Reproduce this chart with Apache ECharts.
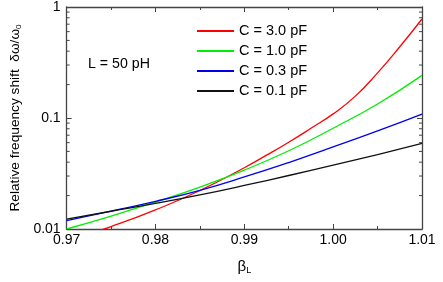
<!DOCTYPE html>
<html><head><meta charset="utf-8">
<script src="https://cdn.jsdelivr.net/npm/echarts@6/dist/echarts.min.js"></script>
<style>html,body{margin:0;padding:0;background:#fff}#c{width:443px;height:282px}</style>
</head><body><div id="c"></div>
<script>
const xTickLabels = ['0.97','0.98','0.99','1.00','1.01'];
const yTickLabels = ['0.01','0.1','1'];
const seriesNames = ['C = 3.0 pF','C = 1.0 pF','C = 0.3 pF','C = 0.1 pF'];
const seriesColors = ['#ff0000','#00ee00','#0000ee','#111111'];
const betaRed = [0.97,0.975,0.98,0.985,0.99,0.9925,0.995,0.9975,1.00,1.0025,1.005,1.0075,1.01];
const valRed  = [0.00778,0.01052,0.01486,0.02223,0.03565,0.04624,0.06053,0.08072,0.1089,0.1574,0.2553,0.4385,0.7798];
const beta = [0.97,0.975,0.98,0.985,0.99,0.995,1.00,1.005,1.01];
const valGreen = [0.0100,0.01309,0.01750,0.02388,0.03388,0.05070,0.08091,0.1337,0.2421];
const valBlue  = [0.0119,0.01449,0.01774,0.02234,0.02944,0.03972,0.05483,0.07656,0.1086];
const valBlack = [0.0123,0.01445,0.01698,0.02028,0.02466,0.03034,0.03758,0.04688,0.05902];
const minorTickValues = [];
[0.01,0.1].forEach(d=>{for(let k=2;k<=9;k++) minorTickValues.push(+(d*k).toPrecision(3));});

const FONT = 'Liberation Sans';
const axisColor = '#444';
function pairs(xs, ys){ return xs.map((x,i)=>[x,ys[i]]); }
const lineData = [pairs(betaRed,valRed), pairs(beta,valGreen), pairs(beta,valBlue), pairs(beta,valBlack)];

const chart = echarts.init(document.getElementById('c'), null, {renderer:'canvas'});
const xBase = {type:'value', min:0.97, max:1.01, interval:0.01,
  axisLine:{show:true, lineStyle:{color:axisColor, width:1.3}},
  axisTick:{show:true, inside:true, length:5, lineStyle:{color:axisColor}},
  minorTick:{show:true, splitNumber:2, length:3, lineStyle:{color:axisColor}},
  splitLine:{show:false}};
const yBase = {type:'log', logBase:10, min:0.01, max:1,
  axisLine:{show:true, lineStyle:{color:axisColor, width:1.3}},
  axisTick:{show:true, inside:true, length:5, lineStyle:{color:axisColor}},
  splitLine:{show:false}};

const option = {
  animation:false,
  backgroundColor:'#fff',
  grid:{left:61, right:21, top:5, bottom:53, containLabel:false},
  xAxis:[
    Object.assign({}, xBase, {position:'bottom',
      axisLabel:{show:true, margin:4, color:'#000', fontFamily:FONT, fontSize:14,
        formatter:(v)=>{const i=Math.round((v-0.97)/0.01); return xTickLabels[i]||'';}},
      name:'{b|β}{s|L}', nameLocation:'middle', nameGap:29,
      nameTextStyle:{rich:{b:{fontSize:15, fontFamily:FONT, color:'#000'}, s:{fontSize:9, fontFamily:FONT, color:'#000', padding:[8,0,0,0]}}}
    }),
    Object.assign({}, xBase, {position:'top', axisLabel:{show:false}})
  ],
  yAxis:[
    Object.assign({}, yBase, {position:'left',
      axisLabel:{show:true, margin:6, color:'#000', fontFamily:FONT, fontSize:14,
        formatter:(v)=>{const i=Math.round(Math.log10(v)+2); return yTickLabels[i]||'';}},
      name:'{m|Relative frequency shift  δω/ω}{s|0}', nameLocation:'middle', nameGap:37,
      nameTextStyle:{rich:{m:{fontSize:13.7, fontFamily:FONT, color:'#000'}, s:{fontSize:8, fontFamily:FONT, color:'#000', padding:[7,0,0,0]}}}
    }),
    Object.assign({}, yBase, {position:'right', axisLabel:{show:false}})
  ],
  legend:{
    show:true, orient:'vertical', left:197, top:23.5, padding:0,
    itemWidth:37, itemHeight:2, itemGap:5, icon:'rect',
    textStyle:{fontFamily:FONT, fontSize:14.5, color:'#000', lineHeight:14, padding:[0,0,0,0]},
    data:seriesNames
  },
  graphic:[{type:'text', left:88, top:57.5, style:{text:'L = 50 pH', font:'14.2px "Liberation Sans"', fill:'#000'}}],
  series: seriesNames.map((n,i)=>({
    name:n, type:'line', data:lineData[i], smooth:0.5, symbol:'none', clip:true,
    xAxisIndex:0, yAxisIndex:0,
    lineStyle:{color:seriesColors[i], width:1.3}, itemStyle:{color:seriesColors[i]}, z:3
  })).concat([{
    type:'custom', xAxisIndex:0, yAxisIndex:0, silent:true, clip:false, z:4,
    data:minorTickValues.map(v=>[v]),
    renderItem:(params, api)=>{
      const v = api.value(0);
      const pl = api.coord([0.97, v]);
      const pr = api.coord([1.01, v]);
      return {type:'group', children:[
        {type:'line', shape:{x1:pl[0], y1:pl[1], x2:pl[0]+3, y2:pl[1]}, style:{stroke:axisColor, lineWidth:1}},
        {type:'line', shape:{x1:pr[0], y1:pr[1], x2:pr[0]-3, y2:pr[1]}, style:{stroke:axisColor, lineWidth:1}}
      ]};
    }
  }])
};
chart.setOption(option);
</script></body></html>
